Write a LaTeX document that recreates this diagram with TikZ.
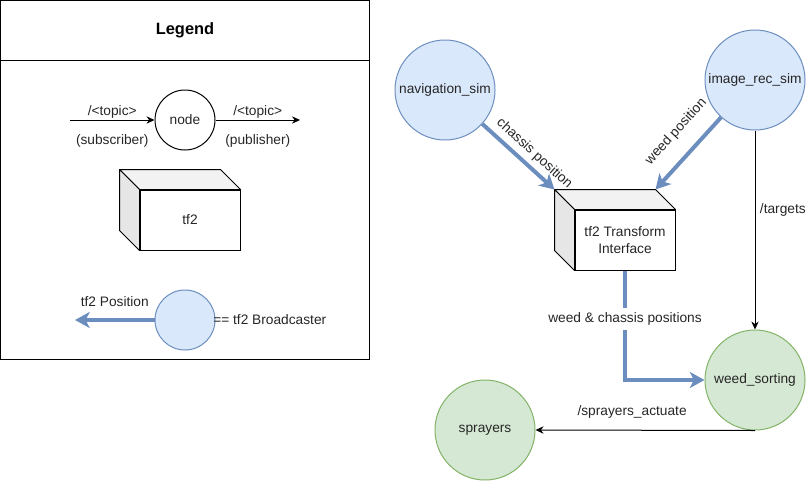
\documentclass[tikz,border=0pt]{standalone}
\usepackage{fontspec}
\setmainfont{Liberation Sans}
\usetikzlibrary{arrows.meta,calc}
\definecolor{bfill}{HTML}{DAE8FC}
\definecolor{bstroke}{HTML}{6C8EBF}
\definecolor{gfill}{HTML}{D5E8D4}
\definecolor{gstroke}{HTML}{82B366}
\definecolor{topface}{HTML}{F2F2F2}
\definecolor{sideface}{HTML}{E6E6E6}
\tikzset{
  lbl/.style={font=\fontsize{10.3}{12.5}\selectfont, text=black!85},
  bluenode/.style={circle, draw=bstroke, fill=bfill, line width=0.75pt, minimum size=75pt, inner sep=0pt, lbl},
  greennode/.style={circle, draw=gstroke, fill=gfill, line width=0.75pt, minimum size=75pt, inner sep=0pt, lbl},
  legnode/.style={circle, draw, line width=0.75pt, minimum size=45pt, inner sep=0pt, lbl},
  cubefront/.style={draw, fill=white, line width=0.75pt, minimum width=75pt, minimum height=45pt, inner sep=0pt, align=center, lbl},
  face/.style={draw, line width=0.75pt, line join=round},
  thinarrow/.style={-{Stealth[length=6pt,width=5.5pt]}, line width=0.75pt},
  tfarrow/.style={-{Stealth[length=11pt,width=12pt,inset=3pt]}, line width=3pt, draw=bstroke},
}
\newcommand\cubefaces[1]{%
  \filldraw[face, fill=topface] (#1.north west) -- ($(#1.north west)+(-20,-20)$) -- ($(#1.north east)+(-20,-20)$) -- (#1.north east) -- cycle;
  \filldraw[face, fill=sideface] (#1.north west) -- ($(#1.north west)+(-20,-20)$) -- ($(#1.south west)+(-20,-20)$) -- (#1.south west) -- cycle;
}
\begin{document}
\begin{tikzpicture}[x=0.75pt,y=-0.75pt]
\useasboundingbox (0,0) rectangle (809,482);
% Legend
\draw[line width=0.75pt] (0.5,0.5) rectangle (369.5,359.5);
\draw[line width=0.75pt] (0.5,60) -- (369.5,60);
\node[font=\fontsize{12.3}{14}\selectfont\bfseries] (legtitle) at (185,30) {Legend};
\node[legnode] (legnd) at (185,120) {node};
\coordinate (subin) at (70,120);
\coordinate (pubout) at (300,120);
\draw[thinarrow] (subin) -- node[lbl, above=-2.5pt, pos=0.5] {/<topic>} node[lbl, below=7pt, pos=0.5] {(subscriber)} (legnd);
\draw[thinarrow] (legnd) -- node[lbl, above=-2.5pt, pos=0.5] {/<topic>} node[lbl, below=7pt, pos=0.5] {(publisher)} (pubout);
\node[cubefront] (legcube) at (190,220) {tf2};
\cubefaces{legcube}
\node[bluenode, minimum size=45pt] (legbc) at (185,320) {};
\coordinate (legtf) at (75,320);
\draw[tfarrow] (legbc) -- node[lbl, above=5pt, pos=0.5] {tf2 Position} (legtf);
\node[lbl, anchor=west, inner sep=0pt] (legbctext) at (213,320) {== tf2 Broadcaster};
% Main diagram
\node[bluenode] (nav) at (445,90) {navigation\_sim};
\node[bluenode] (img) at (755,80) {image\_rec\_sim};
\node[cubefront] (tfi) at (625,240) {tf2 Transform\\Interface};
\cubefaces{tfi}
\coordinate (tfiTL) at ($(tfi.north west)+(-20,-20)$);
\coordinate (tfiTR) at ($(tfi.north east)+(-20,-20)$);
\node[greennode] (weed) at (755,380) {weed\_sorting};
\node[greennode] (spr) at (485,430) {sprayers};
\draw[tfarrow] (nav) -- node[lbl, sloped, pos=0.6, above] {chassis position} (tfiTL);
\draw[tfarrow] (img) -- node[lbl, sloped, pos=0.42, above=8pt] {weed position} (tfiTR);
\draw[thinarrow] (img.south) -- node[lbl, right, pos=0.4] {/targets} (weed.north);
\draw[tfarrow] (tfi.south) |- node[lbl, fill=white, pos=0.22] {weed \& chassis positions} (weed.west);
\draw[thinarrow] (weed.south) -- node[lbl, above=5pt, pos=0.56] {/sprayers\_actuate} (spr.east);
\end{tikzpicture}
\end{document}
